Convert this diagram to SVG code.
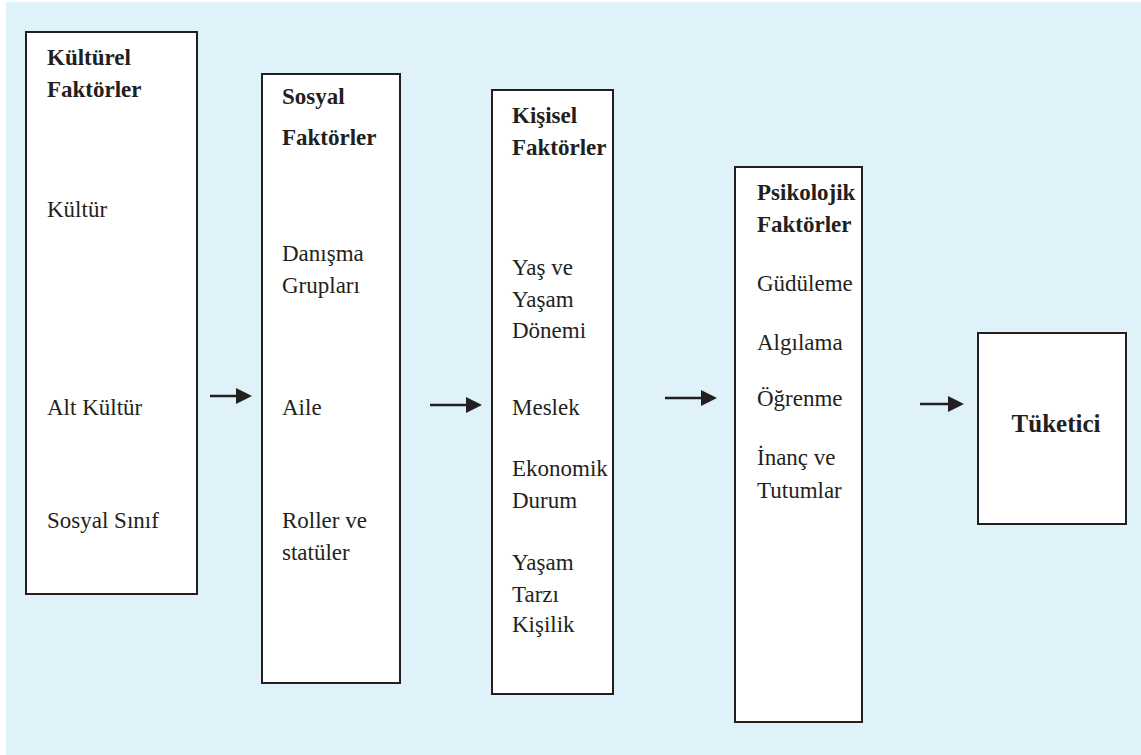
<svg xmlns="http://www.w3.org/2000/svg" width="1141" height="755" viewBox="0 0 1141 755">
<defs>
<style>
.box{fill:#ffffff;stroke:#231f20;stroke-width:2}
.h{font-family:"Liberation Serif","Times New Roman",serif;font-weight:bold;font-size:23px;fill:#231f20}
.t{font-family:"Liberation Serif","Times New Roman",serif;font-size:23px;fill:#231f20}
.big{font-family:"Liberation Serif","Times New Roman",serif;font-weight:bold;font-size:25px;fill:#231f20}
.conn{stroke:#231f20;stroke-width:2.5;fill:none}
</style>
<marker id="ah" markerWidth="8" markerHeight="8" refX="0" refY="4" orient="auto" markerUnits="userSpaceOnUse" viewBox="0 0 8 8" overflow="visible">
<path d="M0,-4 L16,4 L0,12 Z" fill="#231f20"/>
</marker>
</defs>
<rect x="6" y="2" width="1135" height="753" fill="#dff2fa"/>
<g id="kulturel">
<rect class="box" x="26" y="32" width="171" height="562"/>
<text class="h" x="47" y="65">Kültürel</text>
<text class="h" x="47" y="97">Faktörler</text>
<text class="t" x="47" y="217">Kültür</text>
<text class="t" x="47" y="415">Alt Kültür</text>
<text class="t" x="47" y="528">Sosyal Sınıf</text>
</g>
<g id="sosyal">
<rect class="box" x="262" y="74" width="138" height="609"/>
<text class="h" x="282" y="104">Sosyal</text>
<text class="h" x="282" y="145">Faktörler</text>
<text class="t" x="282" y="261">Danışma</text>
<text class="t" x="282" y="293">Grupları</text>
<text class="t" x="282" y="415">Aile</text>
<text class="t" x="282" y="528">Roller ve</text>
<text class="t" x="282" y="560">statüler</text>
</g>
<g id="kisisel">
<rect class="box" x="492" y="90" width="121" height="604"/>
<text class="h" x="512" y="123">Kişisel</text>
<text class="h" x="512" y="155">Faktörler</text>
<text class="t" x="512" y="275">Yaş ve</text>
<text class="t" x="512" y="307">Yaşam</text>
<text class="t" x="512" y="338">Dönemi</text>
<text class="t" x="512" y="415">Meslek</text>
<text class="t" x="512" y="476">Ekonomik</text>
<text class="t" x="512" y="508">Durum</text>
<text class="t" x="512" y="570">Yaşam</text>
<text class="t" x="512" y="602">Tarzı</text>
<text class="t" x="512" y="632">Kişilik</text>
</g>
<g id="psikolojik">
<rect class="box" x="735" y="167" width="127" height="555"/>
<text class="h" x="757" y="200">Psikolojik</text>
<text class="h" x="757" y="232">Faktörler</text>
<text class="t" x="757" y="291">Güdüleme</text>
<text class="t" x="757" y="350">Algılama</text>
<text class="t" x="757" y="406">Öğrenme</text>
<text class="t" x="757" y="465">İnanç ve</text>
<text class="t" x="757" y="498">Tutumlar</text>
</g>
<g id="tuketici">
<rect class="box" x="978" y="333" width="148" height="191"/>
<text class="big" x="1056" y="432" text-anchor="middle">Tüketici</text>
</g>
<g id="connectors">
<line class="conn" x1="210" y1="396" x2="236" y2="396" marker-end="url(#ah)"/>
<line class="conn" x1="430" y1="405" x2="466" y2="405" marker-end="url(#ah)"/>
<line class="conn" x1="665" y1="398" x2="701" y2="398" marker-end="url(#ah)"/>
<line class="conn" x1="920" y1="404" x2="948" y2="404" marker-end="url(#ah)"/>
</g>
</svg>
